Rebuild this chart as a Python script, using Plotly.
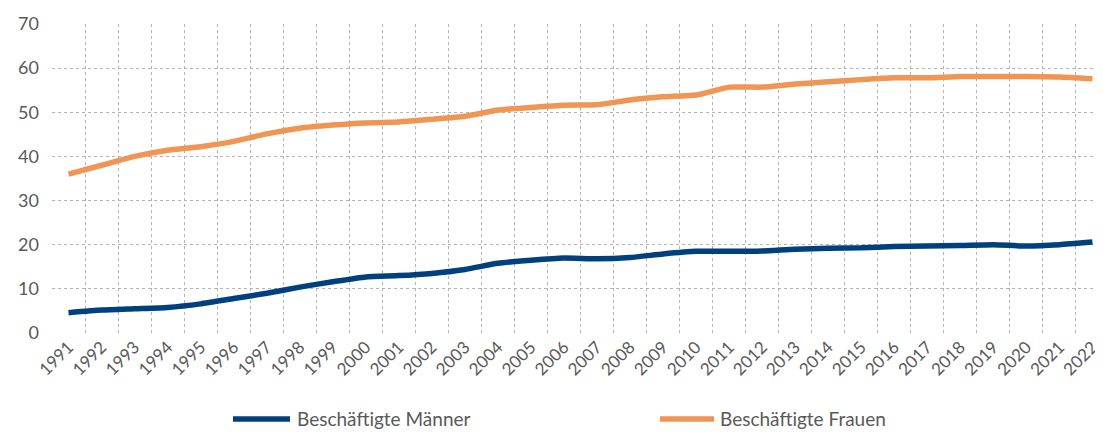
import plotly.graph_objects as go

years = [str(y) for y in range(1991, 2023)]
maenner = [4.6, 5.2, 5.5, 5.8, 6.6, 7.8, 9.0, 10.4, 11.6, 12.7, 13.0, 13.5, 14.4, 15.8,
           16.5, 17.0, 16.8, 17.1, 17.9, 18.5, 18.5, 18.6, 19.0, 19.2, 19.3, 19.6, 19.7,
           19.8, 20.0, 19.7, 20.0, 20.6]
frauen = [36.0, 38.0, 40.0, 41.4, 42.2, 43.4, 45.1, 46.4, 47.1, 47.6, 47.8, 48.4, 49.1,
          50.5, 51.1, 51.6, 51.7, 52.8, 53.5, 53.9, 55.7, 55.7, 56.4, 56.9, 57.4, 57.8,
          57.8, 58.1, 58.1, 58.1, 58.0, 57.6]
y_ticks = [0, 10, 20, 30, 40, 50, 60, 70]
series_names = ["Beschäftigte Männer", "Beschäftigte Frauen"]

BLUE = "#00407F"
ORANGE = "#F09553"
GRID = "#B3B3B3"
TXT = "#595959"
FONT = "Lato, 'Open Sans', sans-serif"

fig = go.Figure()
fig.add_trace(go.Scatter(x=years, y=maenner, mode="lines", name=series_names[0],
                         line=dict(color=BLUE, width=5.5, shape="spline", smoothing=0.5)))
fig.add_trace(go.Scatter(x=years, y=frauen, mode="lines", name=series_names[1],
                         line=dict(color=ORANGE, width=5.5, shape="spline", smoothing=0.5)))

# legend drawn at the bottom (sample line + label), positioned in paper coordinates
leg_y = -0.278
legend_items = [
    (series_names[0], BLUE, 0.1722, 0.2265, 0.2312),
    (series_names[1], ORANGE, 0.5785, 0.6299, 0.6337),
]
for name, col, x0, x1, xt in legend_items:
    fig.add_shape(type="line", xref="paper", yref="paper", x0=x0, x1=x1, y0=leg_y, y1=leg_y,
                  line=dict(color=col, width=5.5))
    fig.add_annotation(xref="paper", yref="paper", x=xt, y=leg_y, text=name,
                       showarrow=False, xanchor="left", yanchor="middle",
                       font=dict(size=19, color=TXT, family=FONT))

fig.update_layout(
    width=1095, height=424,
    margin=dict(l=44, r=0, t=16, b=99, autoexpand=False),
    plot_bgcolor="white", paper_bgcolor="white",
    font=dict(family=FONT, color=TXT, size=16),
    showlegend=False,
)
fig.update_xaxes(type="category", range=[-0.5, 31.32], tickson="boundaries",
                 showgrid=True, gridcolor=GRID, griddash="dot", gridwidth=1,
                 tickangle=-45, ticks="", tickfont=dict(size=17, color=TXT),
                 showline=False, zeroline=False, automargin=False)
fig.update_yaxes(range=[0, 70], tickvals=y_ticks, showgrid=True, gridcolor=GRID,
                 griddash="dot", gridwidth=1, zeroline=False, showline=False,
                 ticks="", ticklabelstandoff=12, tickfont=dict(size=18, color=TXT),
                 automargin=False)

fig.write_html("out.html")
